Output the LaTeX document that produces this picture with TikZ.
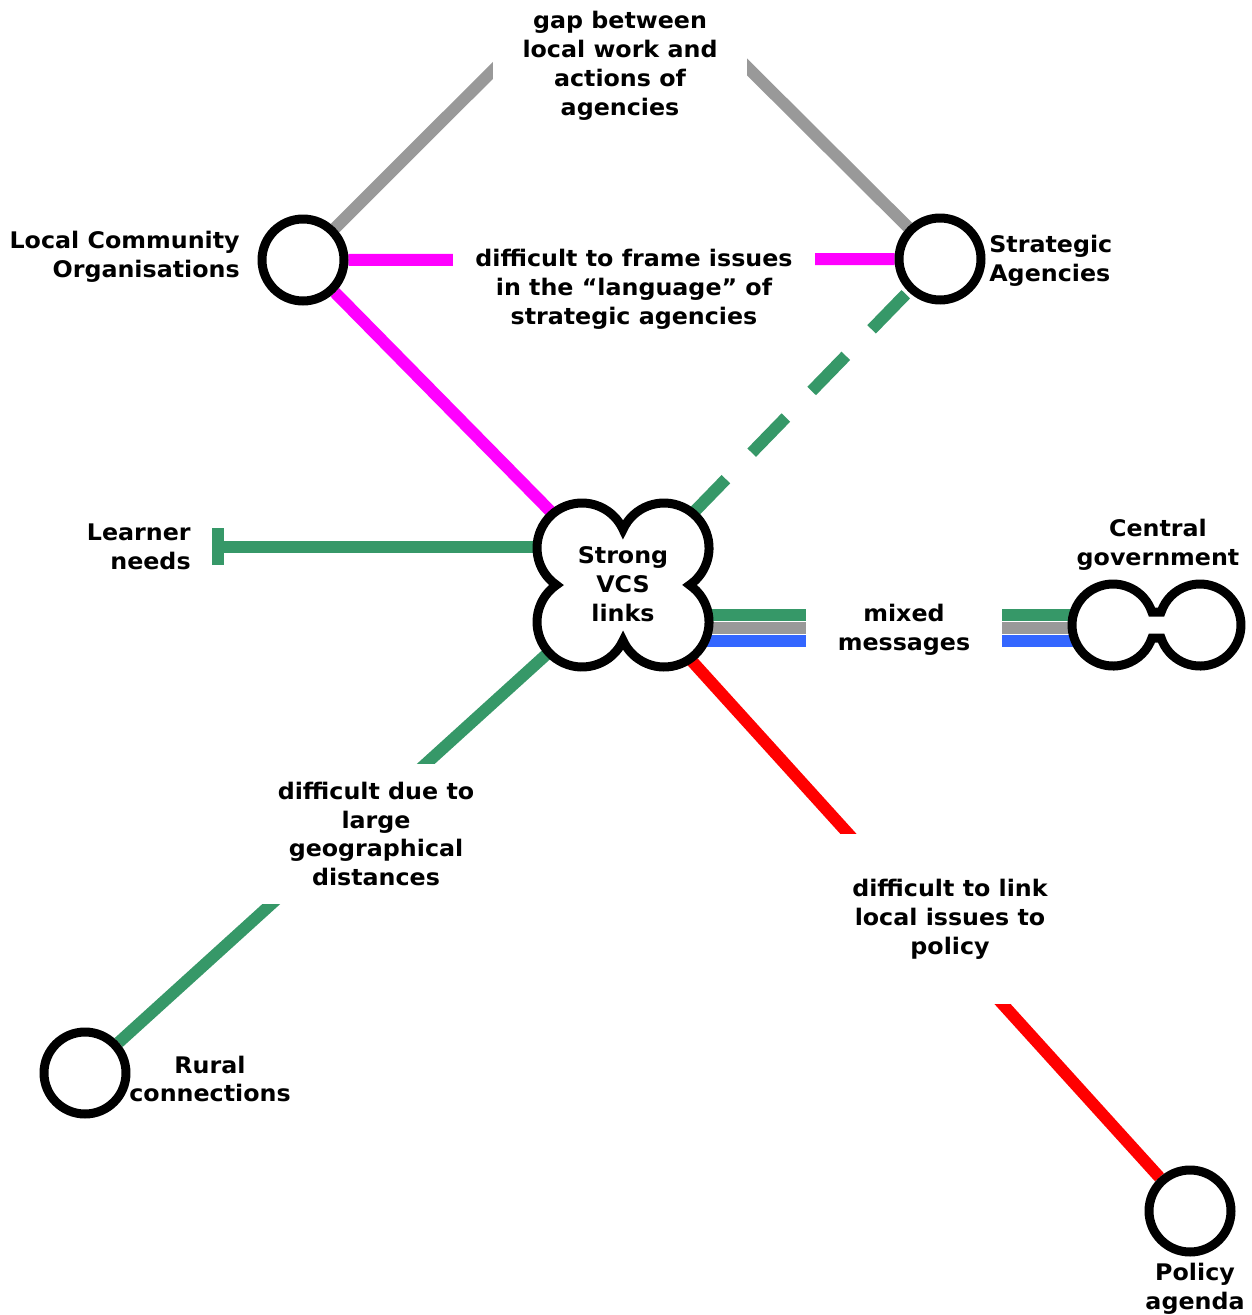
\documentclass[tikz,border=0pt]{standalone}
\usepackage{fontspec}
\setmainfont{DejaVu Sans}[FakeStretch=1.04]
\usetikzlibrary{arrows.meta,backgrounds}

\begin{document}
\begin{tikzpicture}[
  x=0.02cm, y=-0.02cm, % one reference pixel, y downwards
  font=\bfseries\fontsize{13}{16.4}\selectfont,
  line join=miter,
  station/.style={circle, draw=black, fill=white, line width=0.18cm,
    minimum size=1.64cm, inner sep=0pt},
  stationname/.style={align=center, inner sep=0pt},
  gaplabel/.style={fill=white, align=center, inner sep=0pt},
  track/.style={line width=0.24cm},
  multitrack/.style={line width=0.24cm}
]
  % ---- canvas ----
  \useasboundingbox (0,0) rectangle (1251,1315);

  % Colors
  \definecolor{railgreen}{RGB}{54,152,104}
  \definecolor{railgrey}{RGB}{153,153,153}
  \definecolor{railmagenta}{RGB}{255,0,255}
  \definecolor{railred}{RGB}{255,0,0}
  \definecolor{railblue}{RGB}{51,102,255}

  % ---- plain stations ----
  \node[station] (lco) at (303,260) {};
  \node[station] (strat) at (940,259) {};
  \node[station] (rural) at (85,1073) {};
  \node[station] (policy) at (1190,1211) {};

  % ---- interchange: strong VCS links (four lobes) ----
  \coordinate (vcs) at (623,585);
  \filldraw[fill=white, line width=0.18cm]
    ([shift={(-66.6,0)}]vcs)
    arc[start angle=124.7, end angle=335.7, radius=45]
    arc[start angle=204.3, end angle=415.3, radius=45]
    arc[start angle=304.7, end angle=515.7, radius=45]
    arc[start angle=24.3, end angle=235.3, radius=45] -- cycle;

  % ---- interchange: central government (two rings) ----
  \coordinate (gov) at (1156.5,625);
  \filldraw[fill=white, line width=0.18cm]
    ([shift={(-4.6,-13)}]gov)
    arc[start angle=-18.5, end angle=-341.5, radius=41] -- ++(9.2,0)
    arc[start angle=161.5, end angle=-161.5, radius=41] -- cycle;
  % ends of the three parallel tracks
  \coordinate (gA) at (1113,614.5);
  \coordinate (gB) at (1113,627.5);
  \coordinate (gC) at (1113,641);

  % free ends
  \coordinate (apex) at (621.5,-58);
  \coordinate (lend) at (212,546.5);

  % ---- station names ----
  \node[stationname, align=right, anchor=east] (lconame) at (240,256.5) {Local Community\\Organisations};
  \node[stationname, align=left, anchor=west] (stratname) at (989,260.5) {Strategic\\Agencies};
  \node[stationname, align=right, anchor=east] (learnername) at (191,547) {Learner\\needs};
  \node[stationname] (vcsname) at (623,584) {Strong\\VCS\\links};
  \node[stationname] (govname) at (1158,544.5) {Central\\government};
  \node[stationname] (ruralname) at (210,1079) {Rural\\connections};
  \node[stationname] (policyname) at (1195,1289) {Policy\\agenda};

  % ---- labels sitting on the tracks ----
  \node[gaplabel, minimum width=5.08cm, minimum height=2.8cm] (gaptext) at (620,66)
    {gap between\\local work and\\actions of\\agencies};
  \node[gaplabel, minimum width=7.26cm, minimum height=2.2cm] (frametext) at (634,289)
    {difficult to frame issues\\in the “language” of\\strategic agencies};
  \node[gaplabel, minimum width=3.92cm, minimum height=1.6cm] (mixedtext) at (904,629.5)
    {mixed\\messages};
  \node[gaplabel, minimum width=4.8cm, minimum height=2.82cm] (distancetext) at (376,834)
    {difficult due to\\large\\geographical\\distances};
  \node[gaplabel, minimum width=5cm, minimum height=3.42cm] (linktext) at (950,919)
    {difficult to link\\local issues to\\policy};

  % ---- tracks (under everything) ----
  \begin{scope}[on background layer]
    \draw[track, railgrey] (lco) -- (apex) -- (strat);
    \draw[track, railmagenta] (lco) -- (strat);
    \draw[track, railmagenta] (lco) -- (vcs);
    \draw[track, railgreen, dash pattern=on 27.9pt off 21.05pt, dash phase=46.9pt] (strat) -- (vcs);
    \draw[track, railgreen, -{Bar[width=0.74cm]}] (vcs |- lend) -- (lend);
    \draw[track, railgreen] (vcs) -- (rural);
    \draw[track, railred] (vcs) -- (policy);
    % mixed messages: three tracks side by side
    \draw[multitrack, railgreen] (vcs |- gA) -- (gA);
    \draw[multitrack, railgrey] (vcs |- gB) -- (gB);
    \draw[multitrack, railblue] (vcs |- gC) -- (gC);
  \end{scope}

\end{tikzpicture}
\end{document}
